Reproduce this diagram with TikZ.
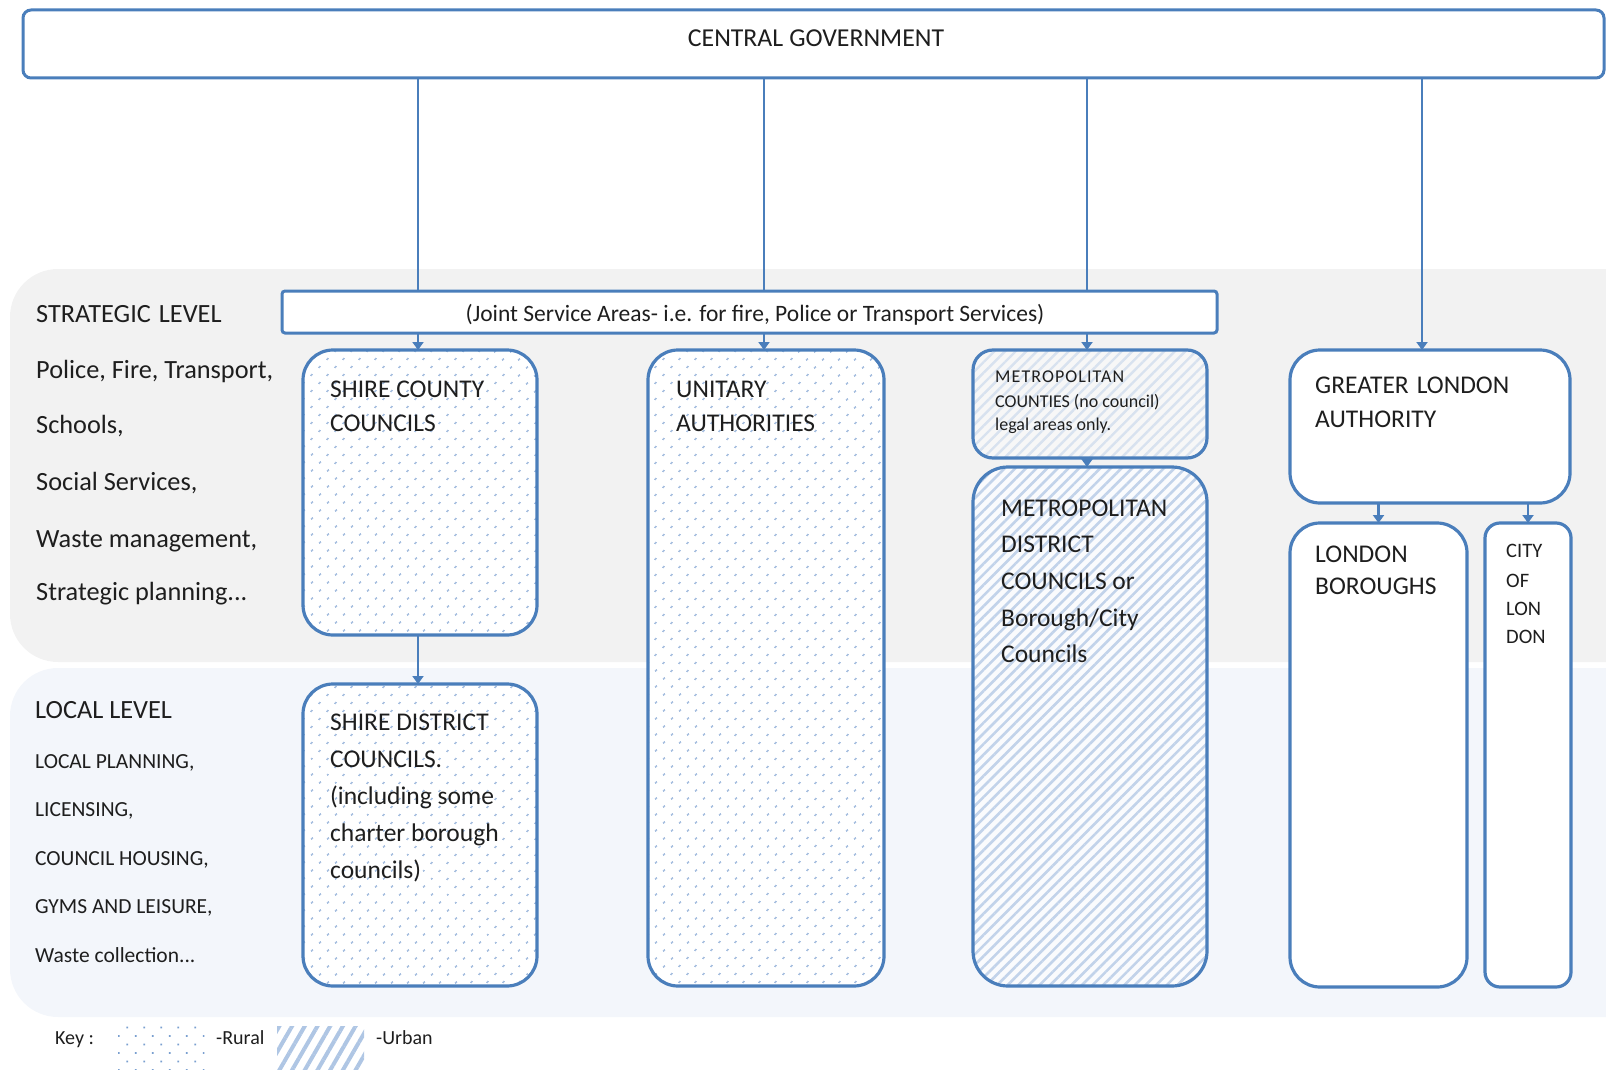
\documentclass[tikz,border=0pt]{standalone}
\usepackage{fontspec}
\setmainfont{Carlito}
\usetikzlibrary{arrows.meta,patterns.meta}
\definecolor{edge}{HTML}{4A7EBB}
\definecolor{strat}{HTML}{F2F2F2}
\definecolor{local}{HTML}{F3F6FB}
\definecolor{dotblue}{HTML}{7A9FD0}
\definecolor{hatchblue}{HTML}{C2D3EA}
\definecolor{hatchpale}{HTML}{D8E2EF}
\definecolor{keyhatch}{HTML}{AFC6E4}
\definecolor{ink}{HTML}{1E1E1E}
\tikzset{
  box/.style={draw=edge, line width=3.2pt, rounded corners=#1, anchor=north west, inner sep=0pt, outer sep=0pt},
  box/.default=30pt,
  rural/.style={preaction={fill=white}, pattern={Dots[radius=1.1pt,distance=11.31pt,angle=45]}, pattern color=dotblue},
  urban/.style={preaction={fill=white!60!local}, pattern={Lines[angle=45,distance=7.5pt,line width=2.6pt]}, pattern color=hatchblue},
  urbanpale/.style={preaction={fill=strat!60!white}, pattern={Lines[angle=45,distance=7.5pt,line width=2.4pt]}, pattern color=hatchpale},
  plain/.style={fill=white},
  conn/.style={draw=edge, line width=2.6pt},
  arr/.style={draw=edge, line width=2.6pt, -{Triangle[width=11pt,length=8pt]}},
  txt/.style={font=\fontsize{25.5}{30}\selectfont, anchor=base west, inner sep=0pt, text=ink},
  lefttxt/.style={font=\fontsize{26.3}{30}\selectfont, anchor=base west, inner sep=0pt, text=ink},
  smalltxt/.style={font=\fontsize{21.5}{26}\selectfont, anchor=base west, inner sep=0pt, text=ink},
  tinytxt/.style={font=\fontsize{18}{22}\selectfont, anchor=base west, inner sep=0pt, text=ink},
  citytxt/.style={font=\fontsize{20.5}{24}\selectfont, anchor=base west, inner sep=0pt, text=ink},
  keytxt/.style={font=\fontsize{20}{24}\selectfont, anchor=base west, inner sep=0pt, text=ink},
}
\begin{document}
\begin{tikzpicture}[x=1pt,y=-1pt]
\useasboundingbox (0,0) rectangle (1606,1070);
\clip (0,0) rectangle (1606,1070);
% background panels
\fill[strat, rounded corners=48pt] (10,269) rectangle (1660,662);
\fill[local, rounded corners=48pt] (10,668) rectangle (1660,1017);
% central government
\node[box=8pt, plain, line width=3pt, minimum width=1581pt, minimum height=68pt] (cg) at (23,10) {};
\node[txt, font=\fontsize{25.8}{30}\selectfont, anchor=base] (cgt) at (816,47) {CENTRAL\hspace{6pt}GOVERNMENT};
% joint service areas
\node[box=3pt, plain, line width=3pt, minimum width=935pt, minimum height=42pt] (jsa) at (282,291) {};
\node[font=\fontsize{23.5}{26}\selectfont, anchor=base, inner sep=0pt, text=ink] (jsat) at (755,321) {(Joint Service Areas- i.e. for fire, Police or Transport Services)};
% boxes
\node[box=30pt, rural, minimum width=234pt, minimum height=285pt] (sc) at (303,350) {};
\node[box=30pt, rural, minimum width=234pt, minimum height=302pt] (sd) at (303,684) {};
\node[box=30pt, rural, minimum width=236pt, minimum height=636pt] (ua) at (648,350) {};
\node[box=20pt, urbanpale, minimum width=234pt, minimum height=108pt] (mc) at (973,350) {};
\node[box=35pt, urban, minimum width=234pt, minimum height=519pt] (md) at (973,467) {};
\node[box=30pt, plain, minimum width=280pt, minimum height=153pt] (gla) at (1290,350) {};
\node[box=30pt, plain, minimum width=177pt, minimum height=464pt] (lb) at (1290,523) {};
\node[box=15pt, plain, minimum width=86pt, minimum height=464pt] (col) at (1485,523) {};
% connectors
\draw[conn] ([xshift=-2pt]cg.south -| sc.north) -- ([xshift=-2pt]jsa.north -| sc.north);
\draw[conn] ([xshift=-2pt]cg.south -| ua.north) -- ([xshift=-2pt]jsa.north -| ua.north);
\draw[conn] ([xshift=-3pt]cg.south -| mc.north) -- ([xshift=-3pt]jsa.north -| mc.north);
\draw[arr] ([xshift=-2pt]jsa.south -| sc.north) -- ([xshift=-2pt]sc.north);
\draw[arr] ([xshift=-2pt]jsa.south -| ua.north) -- ([xshift=-2pt]ua.north);
\draw[arr] ([xshift=-3pt]jsa.south -| mc.north) -- ([xshift=-3pt]mc.north);
\draw[arr] ([xshift=-8pt]cg.south -| gla.north) -- ([xshift=-8pt]gla.north);
\draw[arr] ([xshift=-2pt]sc.south) -- ([xshift=-2pt]sd.north);
\draw[arr] ([xshift=-3pt]mc.south) -- ([xshift=-3pt]md.north);
\draw[arr] (gla.south -| lb.north) -- (lb.north);
\draw[arr] (gla.south -| col.north) -- (col.north);
% left labels
\node[lefttxt] (sl) at (36,322) {STRATEGIC\hspace{8pt}LEVEL};
\foreach \yy/\s [count=\i] in {378/{Police, Fire, Transport,},433/{Schools,},490/{Social Services,},547/{Waste management,},600/{Strategic planning...}}
  \node[lefttxt] (sl\i) at (36,\yy) {\s};
\node[lefttxt] (ll) at (35,718) {LOCAL LEVEL};
\foreach \yy/\s [count=\i] in {768/{LOCAL PLANNING,},816/{LICENSING,},865/{COUNCIL HOUSING,},913/{GYMS AND LEISURE,},962/{Waste collection...}}
  \node[smalltxt] (ll\i) at (35,\yy) {\s};
% box texts
\foreach \yy/\s [count=\i] in {397/{SHIRE COUNTY},431/{COUNCILS}}
  \node[txt] (sct\i) at (330,\yy) {\s};
\foreach \yy/\s [count=\i] in {730/{SHIRE DISTRICT},767/{COUNCILS.},804/{(including some},841/{charter borough},878/{councils)}}
  \node[txt] (sdt\i) at (330,\yy) {\s};
\foreach \yy/\s [count=\i] in {397/{UNITARY},431/{AUTHORITIES}}
  \node[txt] (uat\i) at (676,\yy) {\s};
\node[tinytxt] (mct1) at (995,382) {\addfontfeature{LetterSpace=6}METROPOLITAN};
\foreach \yy/\s [count=\i from 2] in {407/{COUNTIES (no council)},430/{legal areas only.}}
  \node[tinytxt] (mct\i) at (995,\yy) {\s};
\foreach \yy/\s [count=\i] in {516/{METROPOLITAN},552/{DISTRICT},589/{COUNCILS or},626/{Borough/City},662/{Councils}}
  \node[txt] (mdt\i) at (1001,\yy) {\s};
\foreach \yy/\s [count=\i] in {393/{GREATER\hspace{8pt}LONDON},427/{AUTHORITY}}
  \node[txt] (glat\i) at (1315,\yy) {\s};
\foreach \yy/\s [count=\i] in {562/{LONDON},594/{BOROUGHS}}
  \node[txt] (lbt\i) at (1315,\yy) {\s};
\foreach \yy/\s [count=\i] in {557/{CITY},587/{OF},615/{LON},643/{DON}}
  \node[citytxt] (colt\i) at (1506,\yy) {\s};
% key
\node[keytxt] (key) at (55,1044) {Key :};
\node[anchor=north west, inner sep=0pt, minimum width=93pt, minimum height=50pt, pattern={Dots[radius=1.2pt,distance=12pt,angle=45]}, pattern color=dotblue] (keyr) at (118,1026) {};
\node[keytxt] (keyrt) at (216,1044) {-Rural};
\node[anchor=north west, inner sep=0pt, minimum width=87pt, minimum height=50pt, pattern={Lines[angle=60,distance=11pt,line width=4pt]}, pattern color=keyhatch] (keyu) at (275,1024) {};
\node[keytxt] (keyut) at (376,1044) {-Urban};
\end{tikzpicture}
\end{document}
